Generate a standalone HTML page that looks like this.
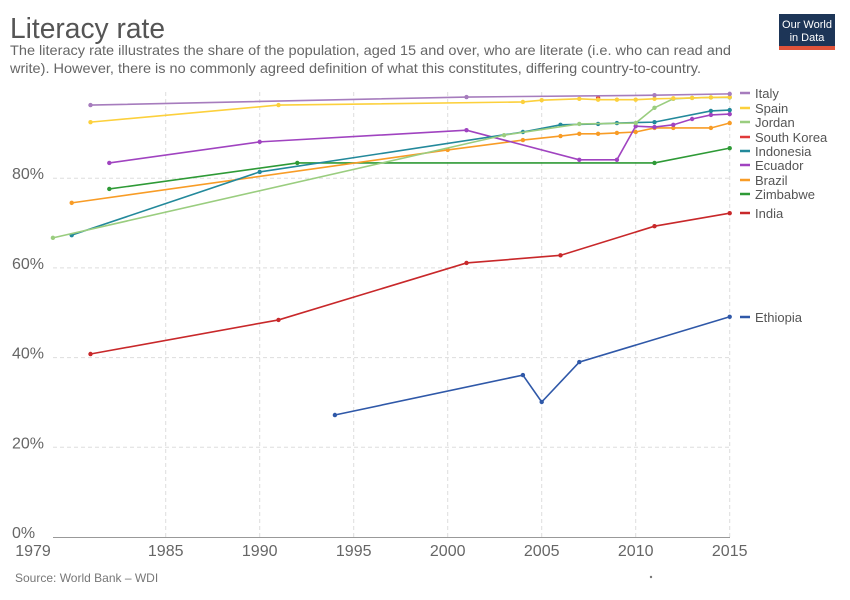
<!DOCTYPE html>
<html><head><meta charset="utf-8"><style>
body{margin:0;background:#fff;}
svg{display:block;font-family:"Liberation Sans",sans-serif;}
</style></head><body>
<svg id="chart" width="850" height="600" viewBox="0 0 850 600">
<text x="10" y="38" font-size="29" fill="#555" textLength="155" lengthAdjust="spacingAndGlyphs">Literacy rate</text>
<text x="10" y="55" font-size="14" fill="#666" textLength="721" lengthAdjust="spacingAndGlyphs">The literacy rate illustrates the share of the population, aged 15 and over, who are literate (i.e. who can read and</text>
<text x="10" y="73" font-size="14" fill="#666" textLength="691" lengthAdjust="spacingAndGlyphs">write). However, there is no commonly agreed definition of what this constitutes, differing country-to-country.</text>
<g>
<rect x="779" y="14" width="56" height="36" fill="#1d3557"/>
<rect x="779" y="46" width="56" height="4" fill="#e0533a"/>
<text x="807" y="28" font-size="11" fill="#fff" text-anchor="middle" textLength="50" lengthAdjust="spacingAndGlyphs">Our World</text>
<text x="807" y="41" font-size="11" fill="#fff" text-anchor="middle">in Data</text>
</g>
<g id="grid"></g><g id="lines"></g><g id="legend"></g>
<text x="15" y="582" font-size="12" fill="#777">Source: World Bank – WDI</text>
<circle cx="651" cy="577" r="1.2" fill="#777"/>
</svg>
<script>
const xTicks=[1979,1985,1990,1995,2000,2005,2010,2015];
const yTicks=[0,20,40,60,80];
const countries=["Italy","Spain","Jordan","South Korea","Indonesia","Ecuador","Brazil","Zimbabwe","India","Ethiopia"];
const colors=["#a67cbd","#fcd03c","#9acd7f","#e03a3a","#23899b","#a043c0","#f89c26","#2e9a36","#c8282a","#2f58a8"];
const italyYears=[1981,2001,2011,2015];const italyVals=[96.3,98.1,98.5,98.8];
const spainYears=[1981,1991,2004,2005,2007,2008,2009,2010,2011,2012,2013,2014,2015];const spainVals=[92.5,96.3,97.0,97.4,97.7,97.5,97.5,97.5,97.7,97.8,97.9,98.0,98.1];
const jordanYears=[1979,2003,2007,2010,2011,2012,2013,2014,2015];const jordanVals=[66.7,89.6,92.1,92.3,95.7,97.7,97.9,98.0,98.0];
const koreaYears=[2008];const koreaVals=[97.9];
const indonesiaYears=[1980,1990,2004,2006,2008,2009,2011,2014,2015];const indonesiaVals=[67.3,81.4,90.3,91.9,92.1,92.3,92.5,95.0,95.2];
const ecuadorYears=[1982,1990,2001,2007,2009,2010,2011,2012,2013,2014,2015];const ecuadorVals=[83.4,88.1,90.7,84.1,84.1,91.6,91.4,91.9,93.2,94.1,94.3];
const brazilYears=[1980,2000,2004,2006,2007,2008,2009,2010,2011,2012,2014,2015];const brazilVals=[74.5,86.3,88.5,89.4,89.9,89.9,90.1,90.3,91.2,91.2,91.2,92.3];
const zimYears=[1982,1992,2011,2015];const zimVals=[77.6,83.4,83.4,86.7];
const indiaYears=[1981,1991,2001,2006,2011,2015];const indiaVals=[40.8,48.4,61.1,62.8,69.3,72.2];
const ethYears=[1994,2004,2005,2007,2015];const ethVals=[27.2,36.1,30.1,39.0,49.1];
const years=[italyYears,spainYears,jordanYears,koreaYears,indonesiaYears,ecuadorYears,brazilYears,zimYears,indiaYears,ethYears];
const vals=[italyVals,spainVals,jordanVals,koreaVals,indonesiaVals,ecuadorVals,brazilVals,zimVals,indiaVals,ethVals];
const legendY=[93,108,122,137,151,165,180,194,213,317];
const NS="http://www.w3.org/2000/svg";
const X=y=>52.9+(y-1979)*18.8;
const Y=v=>537-v*4.485;
function mk(t,a,p){const e=document.createElementNS(NS,t);for(const k in a)e.setAttribute(k,a[k]);p.appendChild(e);return e;}
const grid=document.getElementById('grid');
yTicks.forEach(v=>{
 if(v>0){const l=mk('line',{x1:53,x2:730,y1:Y(v),y2:Y(v),stroke:'#ddd','stroke-dasharray':'4,3'},grid);
 
 }
 const t=mk('text',{x:12,y:Y(v)+1,'font-size':16,fill:'#666'},grid);t.textContent=v+'%';
 
 
});
xTicks.forEach((yr,i)=>{
 if(i>0){const l=mk('line',{x1:X(yr),x2:X(yr),y1:92,y2:537,stroke:'#ddd','stroke-dasharray':'4,3'},grid);
 
 }
 const t=mk('text',{x:i==0?33:X(yr),y:556,'font-size':16,fill:'#666','text-anchor':'middle'},grid);t.textContent=yr;
 
 
});
const ax=mk('line',{x1:53,x2:730,y1:537.5,y2:537.5,stroke:'#999'},grid);


const lines=document.getElementById('lines'),leg=document.getElementById('legend');
for(let i=countries.length-1;i>=0;i--){
 const g=mk('g',{},lines);
 
 
 const pts=years[i].map((y,j)=>X(y)+','+Y(vals[i][j])).join(' ');
 mk('polyline',{points:pts,fill:'none',stroke:colors[i],'stroke-width':1.6},g);
 years[i].forEach((y,j)=>{const c=mk('circle',{cx:X(y),cy:Y(vals[i][j]),r:2.2,fill:colors[i]},g);
 
 });
}
countries.forEach((c,i)=>{
 const g=mk('g',{},leg);
 
 
 mk('line',{x1:740,x2:750,y1:legendY[i],y2:legendY[i],stroke:colors[i],'stroke-width':2.5},g);
 const t=mk('text',{x:755,y:legendY[i]+5,'font-size':13,fill:'#555'},g);t.textContent=c;
});
</script>
</body></html>
